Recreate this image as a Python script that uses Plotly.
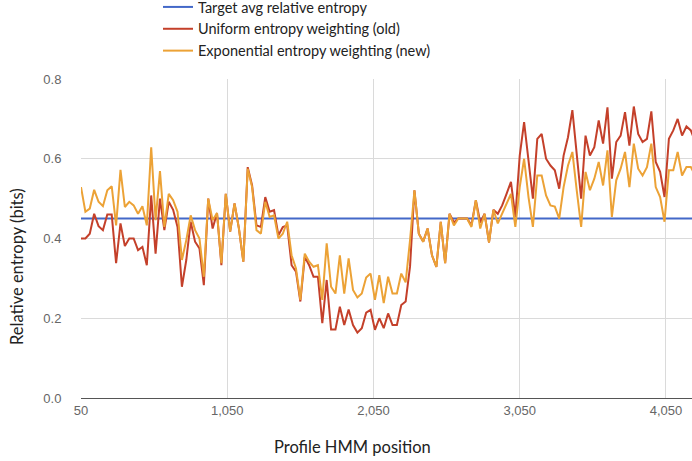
import plotly.graph_objects as go

# Profile HMM positions: first position and spacing between sampled positions
start_position = 50
position_step = 30

uniform_old = [
    0.40, 0.40, 0.412, 0.462, 0.431, 0.421, 0.46, 0.46, 0.338, 0.438,
    0.381, 0.40, 0.40, 0.371, 0.379, 0.333, 0.508, 0.362, 0.50, 0.421,
    0.492, 0.472, 0.429, 0.279, 0.346, 0.442, 0.392, 0.375, 0.283,
    0.50, 0.425, 0.464, 0.333, 0.512, 0.417, 0.488, 0.425, 0.342, 0.579,
    0.533, 0.433, 0.429, 0.504, 0.467, 0.471, 0.408, 0.429, 0.433, 0.333,
    0.317, 0.242, 0.354, 0.333, 0.304, 0.304, 0.188, 0.296,
    0.172, 0.172, 0.229, 0.183, 0.222, 0.183, 0.164, 0.175, 0.214, 0.221,
    0.171, 0.20, 0.175, 0.212, 0.183, 0.183, 0.233, 0.242, 0.33, 0.521,
    0.412, 0.392, 0.425, 0.358, 0.329, 0.442, 0.338,
    0.462, 0.44, 0.45, 0.45, 0.45, 0.433, 0.496, 0.44, 0.462, 0.39,
    0.472, 0.462, 0.483, 0.512, 0.542, 0.454, 0.608, 0.692, 0.596, 0.50,
    0.65, 0.662, 0.60, 0.583, 0.571, 0.525, 0.608, 0.654,
    0.722, 0.604, 0.50, 0.658, 0.608, 0.629, 0.696, 0.638, 0.729, 0.55,
    0.642, 0.658, 0.717, 0.633, 0.731, 0.662, 0.642, 0.65, 0.719, 0.592,
    0.567, 0.504, 0.65, 0.671, 0.70, 0.658, 0.681, 0.671, 0.642,
]

exponential_new = [
    0.529, 0.467, 0.475, 0.522, 0.492, 0.481, 0.521, 0.531, 0.433, 0.572,
    0.479, 0.492, 0.483, 0.462, 0.481, 0.433, 0.629, 0.446, 0.569, 0.429,
    0.512, 0.496, 0.467, 0.346, 0.396, 0.458, 0.421, 0.40, 0.304,
    0.50, 0.446, 0.464, 0.338, 0.512, 0.417, 0.488, 0.425, 0.342, 0.575,
    0.529, 0.421, 0.412, 0.492, 0.454, 0.458, 0.40, 0.412, 0.442, 0.358,
    0.325, 0.246, 0.362, 0.342, 0.329, 0.333, 0.246, 0.388,
    0.279, 0.262, 0.358, 0.262, 0.35, 0.271, 0.252, 0.262, 0.302, 0.312,
    0.246, 0.308, 0.238, 0.304, 0.262, 0.262, 0.312, 0.29, 0.396, 0.521,
    0.412, 0.392, 0.425, 0.358, 0.329, 0.442, 0.338,
    0.462, 0.433, 0.45, 0.45, 0.45, 0.429, 0.496, 0.425, 0.462, 0.39,
    0.472, 0.438, 0.462, 0.488, 0.512, 0.429, 0.529, 0.60, 0.504, 0.429,
    0.558, 0.558, 0.508, 0.483, 0.48, 0.45, 0.529, 0.583,
    0.617, 0.52, 0.429, 0.567, 0.521, 0.55, 0.592, 0.533, 0.621, 0.454,
    0.546, 0.575, 0.617, 0.529, 0.638, 0.575, 0.558, 0.579, 0.638, 0.529,
    0.504, 0.442, 0.571, 0.571, 0.617, 0.558, 0.579, 0.579, 0.558,
]

target_avg = 0.45

x_tick_values = [50, 1050, 2050, 3050, 4050]
x_tick_labels = ["50", "1,050", "2,050", "3,050", "4,050"]
y_tick_values = [0.0, 0.2, 0.4, 0.6, 0.8]
y_tick_labels = ["0.0", "0.2", "0.4", "0.6", "0.8"]

positions = [start_position + position_step * i for i in range(len(uniform_old))]
target_series = [target_avg for _ in positions]

W, H = 692, 461
plot_left, plot_right, plot_top, plot_bottom = 81, 692, 79, 398  # pixels
L, T = plot_left, plot_top
R, B = W - plot_right, H - plot_bottom
pw, ph = W - L - R, H - T - B

def px_x(p):
    return (p - L) / pw

def px_y(p):
    return (H - B - p) / ph

fig = go.Figure()
fig.add_trace(go.Scatter(x=positions, y=target_series, mode="lines",
                         name="Target avg relative entropy",
                         line=dict(color="#4368c8", width=2)))
fig.add_trace(go.Scatter(x=positions, y=uniform_old, mode="lines",
                         name="Uniform entropy weighting (old)",
                         line=dict(color="#c4402a", width=2)))
fig.add_trace(go.Scatter(x=positions, y=exponential_new, mode="lines",
                         name="Exponential entropy weighting (new)",
                         line=dict(color="#eca236", width=2)))

tick_font = dict(family="Liberation Sans, Arial, sans-serif", size=13, color="#666666")
title_font = dict(family="Lato, sans-serif", size=16.5, color="#222222")

fig.update_layout(
    width=W, height=H,
    margin=dict(l=L, r=R, t=T, b=B, pad=0, autoexpand=False),
    paper_bgcolor="white", plot_bgcolor="white",
    showlegend=True,
    legend=dict(x=px_x(158), y=px_y(-9), xanchor="left", yanchor="top",
                font=dict(family="Lato, sans-serif", size=14.5, color="#222222"),
                bgcolor="rgba(0,0,0,0)", borderwidth=0, tracegroupgap=0),
    xaxis=dict(range=[50, 4228], tickvals=x_tick_values, ticktext=x_tick_labels,
               showgrid=True, gridcolor="#dadada", gridwidth=1,
               zeroline=False, showline=True, linecolor="#555555", linewidth=1,
               ticks="", tickfont=tick_font),
    yaxis=dict(range=[0, 0.8], tickvals=y_tick_values, ticktext=y_tick_labels,
               showgrid=True, gridcolor="#dadada", gridwidth=1,
               zeroline=False, showline=False,
               ticks="outside", ticklen=16, tickcolor="rgba(0,0,0,0)",
               tickfont=tick_font),
    annotations=[
        dict(text="Profile HMM position", xref="paper", yref="paper",
             x=px_x(352), y=px_y(447), xanchor="center", yanchor="middle",
             showarrow=False, font=title_font),
        dict(text="Relative entropy (bits)", xref="paper", yref="paper",
             x=px_x(17), y=px_y(267), xanchor="center", yanchor="middle",
             textangle=-90, showarrow=False, font=title_font),
    ],
)

fig.write_html("out.html",
               config=dict(displayModeBar=False),
               post_script="document.body.style.margin='0';document.body.style.padding='0';")
